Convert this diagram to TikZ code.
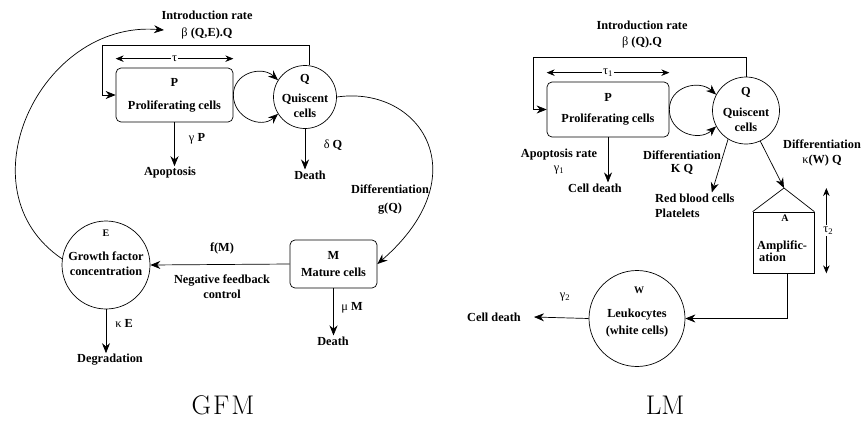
\documentclass[tikz,border=0pt]{standalone}
\usepackage{fontspec}
\newfontfamily\tnr{Liberation Serif}
\usepackage{tikz}
\usetikzlibrary{arrows.meta, positioning, calc}

\begin{document}
\begin{tikzpicture}[
    x=1pt, y=-1pt,
    lab/.style={font=\tnr\bfseries\fontsize{12.3}{15}\selectfont, align=center, inner sep=1pt},
    tinylab/.style={font=\tnr\bfseries\fontsize{10}{12}\selectfont, inner sep=1pt},
    greek/.style={font=\tnr\fontsize{12.3}{15}\selectfont, inner sep=1.5pt, fill=white},
    cellbox/.style={draw, rounded corners=5pt, line width=0.7pt, align=center, font=\tnr\bfseries\fontsize{12.3}{15}\selectfont},
    cellcirc/.style={draw, circle, line width=0.7pt, inner sep=0pt},
    flow/.style={-{Stealth[length=10pt, width=8pt]}, line width=0.7pt},
    span/.style={{Stealth[length=8pt, width=6.5pt]}-{Stealth[length=8pt, width=6.5pt]}, line width=0.7pt},
    caption/.style={font=\fontsize{27}{30}\selectfont, inner sep=0pt},
]
  \useasboundingbox (0,0) rectangle (862,421);

  % GFM
  \node[cellbox, minimum width=117pt, minimum height=54pt] (p) at (174.5,95) {P\\[8pt]Proliferating cells};
  \node[cellcirc, minimum size=63pt] (q) at (305,97) {};
  \node[lab] (qtxt) at (305,96) {Q\\[5pt]Quiscent\\cells};
  \node[cellbox, minimum width=87pt, minimum height=48pt] (m) at (333.5,264) {M\\[2pt]Mature cells};
  \node[cellcirc, minimum size=88pt] (e) at (106,265) {};
  \node[tinylab] (elab) at (106,233) {E};
  \node[lab] (etxt) at (106,264) {Growth factor\\concentration};

  \node[lab] (intro) at (207,25) {Introduction rate\\[2pt]{\mdseries β} (Q,E).Q};
  \coordinate (fb) at (102,45);
  \coordinate (introtip) at (164,30);
  \node[lab] (apop) at (170,173) {Apoptosis};
  \node[lab] (gp) at (197,139) {{\mdseries γ} P};
  \node[lab] (qdeath) at (310,175) {Death};
  \node[lab] (dq) at (333,145) {{\mdseries δ} Q};
  \node[lab] (diffg) at (390,200) {Differentiation\\[3pt]g(Q)};
  \node[lab] (fm) at (222,248) {f(M)};
  \node[lab] (negfb) at (222,287) {Negative feedback\\control};
  \node[lab] (mdeath) at (333,341) {Death};
  \node[lab] (mum) at (352,308) {{\mdseries μ} M};
  \node[lab] (degr) at (110,360) {Degradation};
  \node[lab] (ke) at (124,323) {{\mdseries κ} E};

  \draw[flow] (q.82) |- (fb) |- (p.west);
  \draw[span] ([yshift=9pt]p.north west) -- node[greek] (tau) {τ} ([yshift=9pt]p.north east);
  \draw[flow] (p.east) to[out=90, in=138, looseness=1.2] (q.148);
  \draw[flow] (p.east) to[out=-90, in=222, looseness=1.2] (q.212);
  \draw[flow] (p.south) -- (p.south |- apop.north);
  \draw[flow] (q.south) -- (q.south |- qdeath.north);
  \draw[flow] (q.east) .. controls (420,85) and (480,175) .. (m.east);
  \draw[flow] (m.west) -- (e.east);
  \draw[flow] (m.south) -- (m.south |- mdeath.north);
  \draw[flow] (e.south) -- (e.south |- degr.north);
  \draw[flow] (e.172) .. controls (-40,190) and (40,20) .. (introtip);

  % LM
  \node[cellbox, minimum width=122pt, minimum height=55pt] (p2) at (608,109.5) {P\\[6pt]Proliferating cells};
  \node[cellcirc, minimum size=67pt] (q2) at (746,110.5) {};
  \node[lab] (q2txt) at (746,109) {Q\\[6pt]Quiscent\\cells};
  \node[draw, line width=0.7pt, minimum width=61pt, minimum height=61pt] (amp) at (783.5,242.5) {};
  \coordinate (apex) at (784,188);
  \node[tinylab] (alab) at (785,218) {A};
  \node[lab, align=left, anchor=west, font=\tnr\bfseries\fontsize{12.3}{12}\selectfont] (atxt) at (756,251) {Amplific-\\\hspace{2pt}ation};
  \node[cellcirc, minimum size=96pt] (w) at (637,318.5) {};
  \node[tinylab] (wlab) at (639,290) {W};
  \node[lab] (wtxt) at (637,323) {Leukocytes\\[2pt](white cells)};

  \node[lab] (intro2) at (642,35) {Introduction rate\\[1pt]{\mdseries β} (Q).Q};
  \coordinate (fb2) at (533,57);
  \node[lab] (apoprate) at (559,162) {Apoptosis rate\\[-1pt]{\mdseries γ\textsubscript{1}}};
  \node[lab] (cd1) at (595,188) {Cell death};
  \node[lab] (diffk) at (682,163) {Differentiation\\[-2pt]K Q};
  \node[lab] (diffw) at (822,153) {Differentiation\\{\mdseries κ}(W) Q};
  \node[lab, align=left, anchor=west] (rbc) at (654,205.5) {Red blood cells\\Platelets};
  \node[lab] (g2) at (565,297) {{\mdseries γ\textsubscript{2}}};
  \node[lab] (cd3) at (494,317) {Cell death};

  \draw[flow] (q2.north) |- (fb2) |- (p2.west);
  \draw[span] ([yshift=9pt]p2.north west) -- node[greek] (tau1) {τ\textsubscript{1}} ([yshift=9pt]p2.north east);
  \draw[flow] (p2.east) to[out=90, in=138, looseness=1.2] (q2.152);
  \draw[flow] (p2.east) to[out=-90, in=222, looseness=1.2] (q2.208);
  \draw[flow] (p2.south) -- (p2.south |- cd1.north);
  \draw[flow] (q2.238) -- ([xshift=17pt]rbc.north);
  \draw[flow] (q2.295) -- (apex);
  \draw[line width=0.7pt] (amp.north west) -- (apex) -- (amp.north east);
  \draw[span] ([xshift=12pt]amp.east |- apex) -- node[greek, xshift=2pt] (tau2) {τ\textsubscript{2}} ([xshift=12pt]amp.south east);
  \draw[flow] ([xshift=4pt]amp.south) |- (w.east);
  \draw[flow] (w.west) -- ([xshift=12pt]cd3.east);

  \node[caption] (gfm) at (223,405) {G\hspace{2pt}F\hspace{2pt}M};
  \node[caption] (lm) at (665,405) {LM};
\end{tikzpicture}
\end{document}
